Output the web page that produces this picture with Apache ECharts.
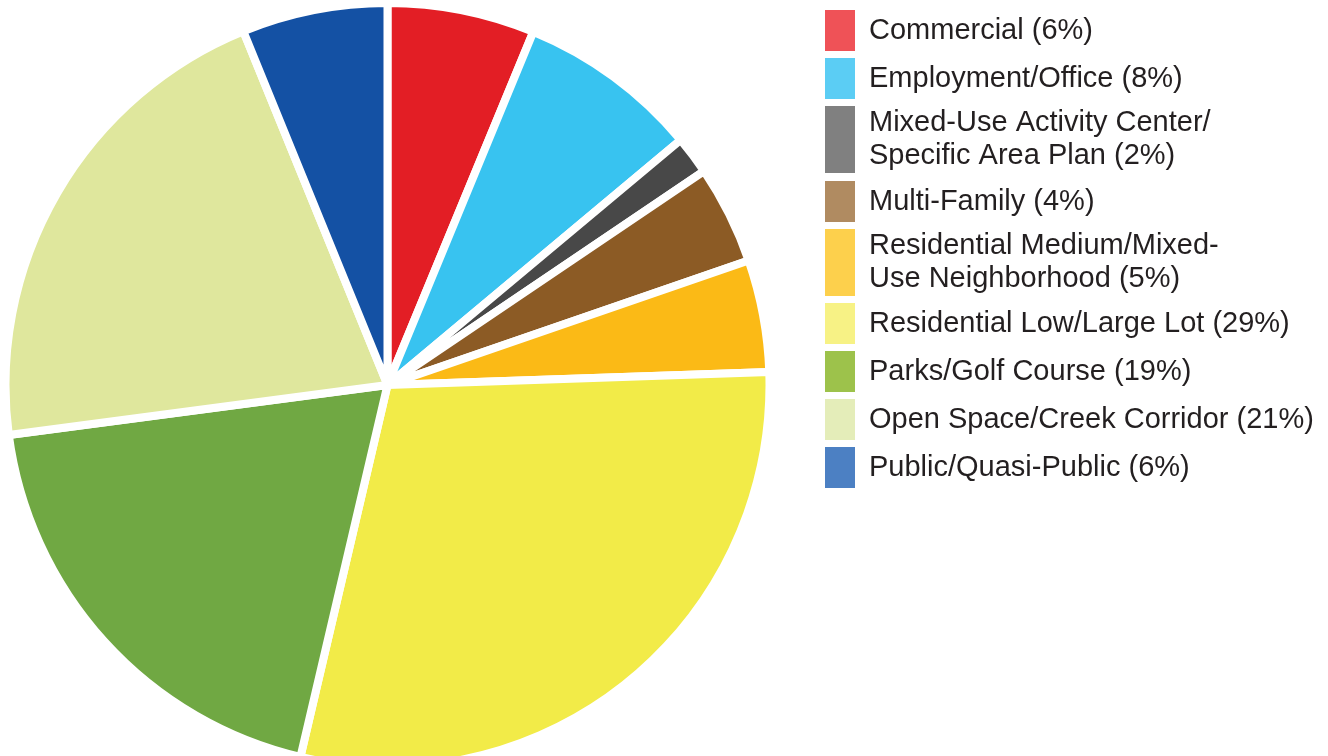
<!DOCTYPE html>
<html>
<head>
<meta charset="utf-8">
<script src="https://cdn.jsdelivr.net/npm/echarts@6/dist/echarts.min.js"></script>
<style>
html,body{margin:0;padding:0;background:#fff;}
#chart{width:1328px;height:756px;}
</style>
</head>
<body>
<div id="chart"></div>
<script>
// Data
const categories = [
  'Commercial (6%)',
  'Employment/Office (8%)',
  'Mixed-Use Activity Center/\nSpecific Area Plan (2%)',
  'Multi-Family (4%)',
  'Residential Medium/Mixed-\nUse Neighborhood (5%)',
  'Residential Low/Large Lot (29%)',
  'Parks/Golf Course (19%)',
  'Open Space/Creek Corridor (21%)',
  'Public/Quasi-Public (6%)'
];
const values = [6.23, 7.69, 1.62, 4.18, 4.74, 29.2, 19.25, 20.93, 6.16];
const sliceColors = ['#E31E25', '#38C3F0', '#484848', '#8C5B25', '#FBBA16', '#F2EB48', '#70A843', '#DFE79D', '#1451A4'];
const legendColors = ['#EF5257', '#5BCDF4', '#808080', '#B08B61', '#FDD04C', '#F7F285', '#9DC24B', '#E4EDB9', '#4C80C3'];
const legendTops = [8, 56, 104, 179, 227, 301, 349, 397, 445];

const chart = echarts.init(document.getElementById('chart'), null, {renderer: 'canvas'});

const legends = categories.map((name, i) => {
  const twoLine = name.indexOf('\n') >= 0;
  return {
    show: true,
    orient: 'vertical',
    left: 823,
    top: legendTops[i],
    padding: 0,
    itemGap: 0,
    icon: 'rect',
    itemWidth: 32,
    itemHeight: twoLine ? 69 : 43,
    selectedMode: false,
    data: [{name: name, itemStyle: {color: legendColors[i]}}],
    textStyle: {
      fontFamily: '"Liberation Sans", Arial, sans-serif',
      fontSize: 29,
      lineHeight: 33,
      color: '#231F20',
      padding: [0, 0, 0, 8]
    }
  };
});

chart.setOption({
  animation: false,
  backgroundColor: '#ffffff',
  legend: legends,
  series: [{
    type: 'pie',
    center: [387.5, 385],
    radius: 382,
    startAngle: 90,
    clockwise: true,
    label: {show: false},
    labelLine: {show: false},
    emphasis: {disabled: true},
    silent: true,
    itemStyle: {borderColor: '#ffffff', borderWidth: 8},
    data: categories.map((name, i) => ({
      name: name,
      value: values[i],
      itemStyle: {color: sliceColors[i]}
    }))
  }]
});
</script>
</body>
</html>
